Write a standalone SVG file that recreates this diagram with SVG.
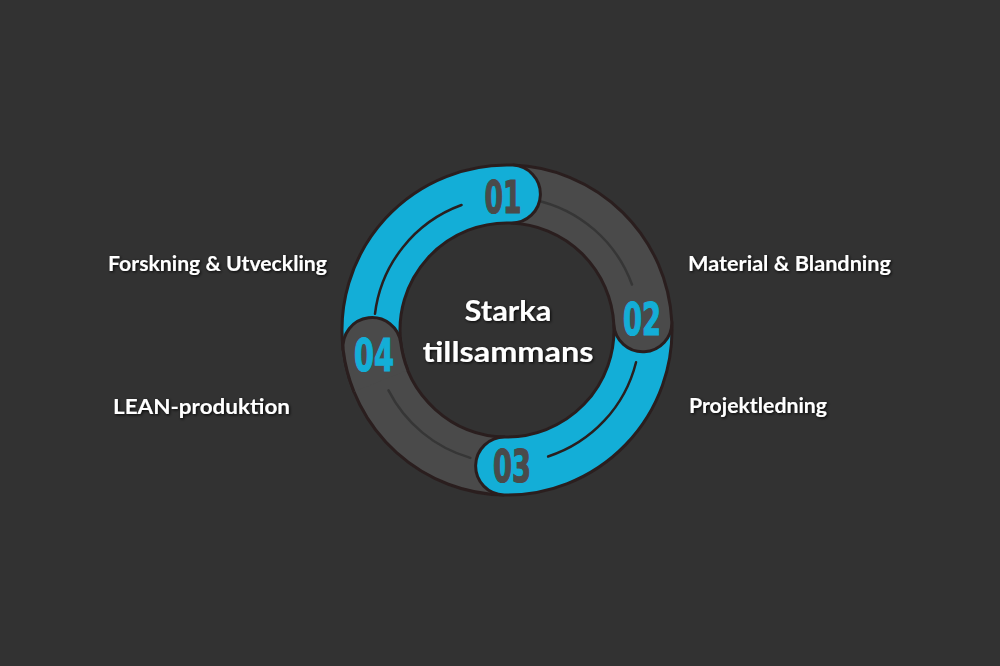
<svg xmlns="http://www.w3.org/2000/svg" width="1000" height="666" viewBox="0 0 1000 666">
<defs>
<filter id="sh" x="-10%" y="-30%" width="120%" height="160%">
<feDropShadow dx="1" dy="1" stdDeviation="1.4" flood-color="#000" flood-opacity="0.9"/>
</filter>
<style>
.blue{fill:#13aed7}
.gray{fill:#4a4a4a}
.edge{fill:none;stroke:#2a1e1e;stroke-width:3}
.lb{fill:none;stroke:#2a1f1f;stroke-width:2.5;stroke-linecap:round}
.lg{fill:none;stroke:#363636;stroke-width:2.5;stroke-linecap:round}
.num{font-family:"Liberation Sans Narrow","DejaVu Sans Condensed","Liberation Sans",sans-serif;font-weight:bold;font-size:45px;text-anchor:middle;stroke-width:1.2}
.nb{fill:#13aed7;stroke:#13aed7}
.ng{fill:#4a4a4a;stroke:#4a4a4a}
.lab{font-family:Lato,"Open Sans","Liberation Sans",sans-serif;font-weight:bold;font-size:20px;fill:#fff;filter:url(#sh)}
.ctr{font-family:Lato,"Open Sans","Liberation Sans",sans-serif;font-weight:bold;font-size:29px;fill:#fff;text-anchor:middle;filter:url(#sh)}
</style>
</defs>
<rect width="1000" height="666" fill="#323232"/>
<g id="ring">
<g id="seg4">
<path class="gray" d="M504.12 494.98 A165 165 0 0 1 343.23 350.11 A29 29 0 0 1 400.80 343.04 A107 107 0 0 0 505.13 436.98 Z"/>
<path class="edge" d="M504.12 494.98 A165 165 0 0 1 343.23 350.11 A29 29 0 0 1 400.80 343.04 A107 107 0 0 0 505.13 436.98"/>
<path class="lg" d="M470.34 457.85 A133 133 0 0 1 388.50 390.38"/>
</g>
<g id="seg3">
<path class="blue" d="M671.77 321.36 A165 165 0 0 1 504.12 494.98 A29 29 0 0 1 505.13 436.98 A107 107 0 0 0 613.85 324.40 Z"/>
<path class="edge" d="M671.77 321.36 A165 165 0 0 1 504.12 494.98 A29 29 0 0 1 505.13 436.98 A107 107 0 0 0 613.85 324.40"/>
<path class="lb" d="M636.05 362.18 A133 133 0 0 1 548.10 456.49"/>
<text class="num ng" x="512" y="482" textLength="38" lengthAdjust="spacingAndGlyphs">03</text>
</g>
<g id="seg2">
<path class="gray" d="M512.76 165.10 A165 165 0 0 1 671.77 321.36 A29 29 0 0 1 613.85 324.40 A107 107 0 0 0 510.73 223.06 Z"/>
<path class="edge" d="M512.76 165.10 A165 165 0 0 1 671.77 321.36 A29 29 0 0 1 613.85 324.40 A107 107 0 0 0 510.73 223.06"/>
<path class="lg" d="M534.65 199.91 A133 133 0 0 1 631.98 284.51"/>
<text class="num nb" x="642" y="335" textLength="38" lengthAdjust="spacingAndGlyphs">02</text>
</g>
<g id="seg1">
<path class="blue" d="M343.23 350.11 A165 165 0 0 1 512.76 165.10 A29 29 0 0 1 510.73 223.06 A107 107 0 0 0 400.80 343.04 Z"/>
<path class="edge" d="M343.23 350.11 A165 165 0 0 1 512.76 165.10 A29 29 0 0 1 510.73 223.06 A107 107 0 0 0 400.80 343.04"/>
<path class="lb" d="M374.99 313.79 A133 133 0 0 1 461.51 205.02"/>
<text class="num ng" x="503" y="213" textLength="37" lengthAdjust="spacingAndGlyphs">01</text>
</g>
<g id="seg4-head">
<path class="gray" d="M354.02 391.81 A165 165 0 0 1 343.23 350.11 A29 29 0 0 1 400.80 343.04 A107 107 0 0 0 407.79 370.08 Z"/>
<path class="edge" d="M354.02 391.81 A165 165 0 0 1 343.23 350.11 A29 29 0 0 1 400.80 343.04 A107 107 0 0 0 407.79 370.08"/>
<text class="num nb" x="374" y="371" textLength="40" lengthAdjust="spacingAndGlyphs">04</text>
</g>
</g>
<g id="center">
<text class="ctr" x="508" y="321" textLength="87" lengthAdjust="spacingAndGlyphs">Starka</text>
<text class="ctr" x="508" y="362" textLength="171" lengthAdjust="spacingAndGlyphs">tillsammans</text>
</g>
<g id="labels">
<text class="lab" x="108" y="271" textLength="219" lengthAdjust="spacingAndGlyphs">Forskning &amp; Utveckling</text>
<text class="lab" x="688" y="271" textLength="203" lengthAdjust="spacingAndGlyphs">Material &amp; Blandning</text>
<text class="lab" x="113" y="414" textLength="177" lengthAdjust="spacingAndGlyphs">LEAN-produktion</text>
<text class="lab" x="689" y="413" textLength="138" lengthAdjust="spacingAndGlyphs">Projektledning</text>
</g>
</svg>
